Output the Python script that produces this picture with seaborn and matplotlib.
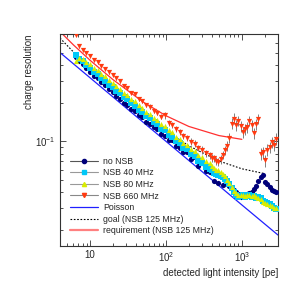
import numpy as np
import matplotlib
matplotlib.use("Agg")
import matplotlib.pyplot as plt
import seaborn as sns
from matplotlib.lines import Line2D
from matplotlib.ticker import LogLocator, NullFormatter, FixedFormatter, FixedLocator

# detected light intensity [pe] of the measured points
pe = [6.5, 7.2, 8.0, 8.9, 10, 11.2, 12.5, 14, 15.7, 17.6,
      19.7, 22, 24.7, 27.7, 31, 34.7, 38.9, 43.6, 48.8, 54.7,
      61.3, 68.6, 76.8, 86, 96.4, 108, 121, 135, 152, 170,
      190, 213, 239, 268, 300, 336, 376,
      400, 428, 458, 490, 524, 561, 600, 642, 687, 735,
      786, 841, 900, 963, 1030, 1102, 1179, 1262, 1350, 1445,
      1546, 1654, 1770, 1894, 2026, 2168, 2320, 2482, 2656, 2842]

no_nsb = [0.459, 0.429, 0.404, 0.375, 0.354, 0.329, 0.314, 0.291, 0.277, 0.257,
          0.245, 0.228, 0.217, 0.201, 0.194, 0.180, 0.173, 0.160, 0.156, 0.143,
          0.138, 0.129, 0.125, 0.114, 0.111, 0.103, 0.102, 0.0913, 0.0892, 0.0821,
          0.0819, 0.0726, 0.0751, 0.0642, 0.0681, 0.0579, 0.0578,
          0.057, 0.0485, 0.056, 0.047, 0.0535, 0.0455, 0.050, 0.046, 0.0445, 0.043,
          0.0415, 0.040, 0.0385, 0.0365, 0.0375, 0.037, 0.0385, 0.0395, 0.040, 0.042,
          0.0445, 0.049, 0.052, 0.054, 0.048, 0.046, 0.0435, 0.0415, 0.041, 0.0396]

nsb_40 = [0.478, 0.448, 0.428, 0.399, 0.379, 0.353, 0.340, 0.315, 0.300, 0.278,
          0.268, 0.249, 0.239, 0.222, 0.214, 0.199, 0.190, 0.177, 0.170, 0.158,
          0.154, 0.142, 0.137, 0.126, 0.122, 0.113, 0.109, 0.0999, 0.0973, 0.089,
          0.0863, 0.0795, 0.0763, 0.0703, 0.0681, 0.0633, 0.0609,
          0.059, 0.0565, 0.0555, 0.0545, 0.0535, 0.052, 0.0505, 0.049, 0.046, 0.043,
          0.040, 0.0375, 0.0365, 0.037, 0.0375, 0.0365, 0.037, 0.0375, 0.0365, 0.037,
          0.036, 0.0365, 0.0355, 0.034, 0.033, 0.0325, 0.032, 0.031, 0.030, 0.0295]

nsb_80 = [0.431, 0.455, 0.443, 0.425, 0.404, 0.380, 0.365, 0.339, 0.325, 0.302,
          0.290, 0.271, 0.259, 0.241, 0.232, 0.216, 0.206, 0.192, 0.184, 0.171,
          0.165, 0.154, 0.147, 0.137, 0.133, 0.122, 0.118, 0.109, 0.105, 0.0974,
          0.0943, 0.087, 0.0841, 0.0782, 0.075, 0.0699, 0.0671,
          0.064, 0.062, 0.060, 0.059, 0.057, 0.0555, 0.053, 0.050, 0.047, 0.0435,
          0.041, 0.039, 0.0375, 0.0375, 0.038, 0.037, 0.0375, 0.038, 0.037, 0.0375,
          0.0365, 0.036, 0.035, 0.0335, 0.0325, 0.032, 0.0315, 0.031, 0.030, 0.030]

nsb_660 = [0.685, 0.560, 0.525, 0.495, 0.468, 0.440, 0.418, 0.392, 0.372, 0.350,
           0.332, 0.314, 0.297, 0.272, 0.261, 0.241, 0.234, 0.216, 0.209, 0.193,
           0.188, 0.174, 0.168, 0.156, 0.161, 0.139, 0.134, 0.125, 0.119, 0.111,
           0.107, 0.0993, 0.0958, 0.0892, 0.086, 0.0803, 0.0774,
           0.074, 0.0734, 0.070, 0.0692, 0.0725, 0.078, 0.085, 0.092, 0.107, 0.138,
           0.151, 0.134, 0.145, 0.131, 0.118, 0.124, 0.130, 0.145, 0.134, 0.116,
           0.136, 0.151, 0.080, 0.082, 0.0707, 0.086, 0.090, 0.0988, 0.094, 0.105]

nsb_660_err = [0.015, 0.012, 0.011, 0.011, 0.010, 0.010, 0.009, 0.009, 0.009, 0.008,
               0.008, 0.008, 0.008, 0.008, 0.008, 0.007, 0.008, 0.007, 0.008, 0.007,
               0.008, 0.007, 0.008, 0.007, 0.010, 0.007, 0.007, 0.007, 0.006, 0.006,
               0.006, 0.006, 0.006, 0.005, 0.006, 0.005, 0.005,
               0.005, 0.005, 0.005, 0.005, 0.006, 0.006, 0.007, 0.008, 0.010, 0.014,
               0.015, 0.013, 0.014, 0.013, 0.012, 0.012, 0.013, 0.014, 0.013, 0.012,
               0.013, 0.014, 0.009, 0.009, 0.008, 0.009, 0.009, 0.010, 0.010, 0.011]

# reference curves
poisson_pe = [4, 10, 100, 1000, 3000]
poisson_res = [0.5, 0.316, 0.1, 0.0316, 0.0183]

goal_pe = [4, 6, 10, 20, 50, 100, 200, 500, 1000, 2000]
goal_res = [0.65, 0.506, 0.376, 0.259, 0.165, 0.121, 0.0922, 0.070, 0.0608, 0.0557]

req_pe = [4, 6, 10, 20, 50, 100, 200, 500, 1000]
req_res = [0.731, 0.575, 0.434, 0.306, 0.204, 0.159, 0.131, 0.111, 0.1037]

sns.set_style("ticks")
plt.rcParams['font.family'] = ['Liberation Sans', 'DejaVu Sans']
plt.rcParams['mathtext.fontset'] = 'custom'
plt.rcParams['mathtext.rm'] = 'Liberation Sans'
plt.rcParams['mathtext.it'] = 'Liberation Sans:italic'

fig = plt.figure(figsize=(2.99, 2.81), dpi=100)
ax = fig.add_axes([0.2007, 0.1246, 0.729, 0.7544])

err_gray = "#808080"
series = [
    ("no NSB", no_nsb, "#00007a", "o"),
    ("NSB 40 MHz", nsb_40, "#00c8f8", "s"),
    ("NSB 80 MHz", nsb_80, "#d8ec00", "^"),
]

# curves
sns.lineplot(x=poisson_pe, y=poisson_res, ax=ax, color="#2020ff", linewidth=0.9, legend=False)
sns.lineplot(x=goal_pe, y=goal_res, ax=ax, color="black", linewidth=0.8,
             linestyle=(0, (1.5, 1.5)), legend=False)

for label, vals, col, mk in series:
    sns.scatterplot(x=pe, y=vals, ax=ax, color=col, marker=mk, s=14, linewidth=0, zorder=3)

ax.errorbar(pe, nsb_660, yerr=nsb_660_err, fmt="none", ecolor=err_gray, elinewidth=0.7, zorder=3)
sns.scatterplot(x=pe, y=nsb_660, ax=ax, color="#ff3a10", marker="v", s=14, linewidth=0, zorder=4)

sns.lineplot(x=req_pe, y=req_res, ax=ax, color="#ff3030", linewidth=0.9, legend=False)

ax.set_xscale("log")
ax.set_yscale("log")
ax.set_xlim(4, 3000)
ax.set_ylim(0.015, 0.7)

# ROOT-like ticks
ax.xaxis.set_major_locator(FixedLocator([10, 100, 1000]))
ax.xaxis.set_major_formatter(FixedFormatter(["10", r"$10^{2}$", r"$10^{3}$"]))
ax.xaxis.set_minor_locator(LogLocator(base=10, subs=np.arange(2, 10)))
ax.xaxis.set_minor_formatter(NullFormatter())
ax.yaxis.set_major_locator(FixedLocator([0.1]))
ax.yaxis.set_major_formatter(FixedFormatter([r"$10^{-1}$"]))
ax.yaxis.set_minor_locator(LogLocator(base=10, subs=np.arange(2, 10)))
ax.yaxis.set_minor_formatter(NullFormatter())
ax.tick_params(which="both", direction="in", top=True, right=True, labelsize=7,
               width=0.6, color="#333333", pad=3)
ax.tick_params(which="major", length=4.5)
ax.tick_params(which="minor", length=2.5)
for sp in ax.spines.values():
    sp.set_linewidth(0.8)
    sp.set_color("#333333")

ax.set_xlabel("detected light intensity [pe]", fontsize=7, loc="right")
ax.set_ylabel("charge resolution", fontsize=7, loc="top")
ax.xaxis.set_label_coords(1.0, -0.105)
ax.yaxis.set_label_coords(-0.12, 1.0)

handles = [
    Line2D([], [], color="#555555", lw=0.8, marker="o", ms=3, mfc="#00007a", mec="#00007a"),
    Line2D([], [], color="#999999", lw=0.8, marker="s", ms=3, mfc="#00c8f8", mec="#00c8f8"),
    Line2D([], [], color="#999999", lw=0.8, marker="^", ms=3, mfc="#d8ec00", mec="#d8ec00"),
    Line2D([], [], color="#888888", lw=0.8, marker="v", ms=3, mfc="#ff3a10", mec="#ff3a10"),
    Line2D([], [], color="#2020ff", lw=0.9),
    Line2D([], [], color="black", lw=0.8, linestyle=(0, (1.5, 1.5))),
    Line2D([], [], color="#ff8080", lw=1.6),
]
labels = ["no NSB", "NSB 40 MHz", "NSB 80 MHz", "NSB 660 MHz", "Poisson",
          "goal (NSB 125 MHz)", "requirement (NSB 125 MHz)"]
ax.legend(handles, labels, loc="lower left", bbox_to_anchor=(0.045, 0.05),
          frameon=False, fontsize=6.3, handlelength=3.2, handletextpad=0.6,
          labelspacing=0.3, borderpad=0.0, borderaxespad=0.0)

fig.savefig("out.png", dpi=100)
